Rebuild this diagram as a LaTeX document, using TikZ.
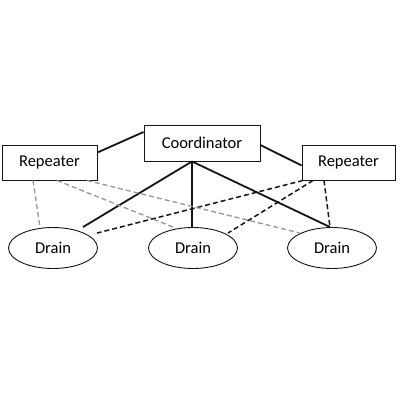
\documentclass[tikz,border=0pt]{standalone}
\usepackage{fontspec}
\setmainfont{Carlito}
\definecolor{traitgris}{RGB}{150,150,150}
\definecolor{traitnoir}{RGB}{20,20,20}
\usepackage{tikz}
\usetikzlibrary{shapes.geometric}

\begin{document}
\begin{tikzpicture}[
    x=1pt, y=-1pt,
    boite/.style={draw=traitnoir, line width=0.9pt, inner sep=0pt,
                  minimum height=35pt, font=\fontsize{16.5}{18}\selectfont},
    puits/.style={ellipse, draw=traitnoir, line width=0.9pt, inner sep=0pt,
                  minimum width=89pt, minimum height=41pt,
                  font=\fontsize{16.5}{18}\selectfont},
    plein/.style={traitnoir, line width=1.8pt},
    tiret/.style={traitnoir, line width=1.5pt, dash pattern=on 5pt off 3pt},
    tiretgris/.style={traitgris, line width=1.3pt, dash pattern=on 5pt off 3pt}
  ]
  \useasboundingbox (0,0) rectangle (400,400);

  % Coordinateur et répéteurs
  \node[boite, minimum width=116pt, minimum height=36pt] (coord) at (202,143) {Coordinator};
  \node[boite, minimum width=95pt] (repG) at (49.5,162.5) {Repeater};
  \node[boite, minimum width=93pt] (repD) at (348.5,162.5) {Repeater};

  % Les trois drains
  \node[puits] (drainG) at (53,248) {Drain};
  \node[puits] (drainM) at (193,248) {Drain};
  \node[puits] (drainD) at (332,248) {Drain};

  % Point de départ commun sous le coordinateur
  \coordinate (pivot) at ([xshift=-10pt]coord.south);

  % Liaisons pleines
  \draw[plein] ([yshift=11pt]coord.west) -- ([yshift=10pt]repG.east);
  \draw[plein] ([yshift=-2pt]coord.east) -- ([yshift=-3pt]repD.west);
  \draw[plein] (pivot) -- ([xshift=30pt]drainG.north);
  \draw[plein] (pivot) -- ([xshift=-1pt]drainM.north);
  \draw[plein] (pivot) -- ([xshift=-2pt]drainD.north);

  % Liaisons en tirets depuis le répéteur droit
  \draw[tiret] ([xshift=-45.5pt]repD.south) -- ([xshift=44pt,yshift=-6pt]drainG.north);
  \draw[tiret] ([xshift=-35.5pt]repD.south) -- ([xshift=35pt,yshift=-6pt]drainM.north);
  \draw[tiret] ([xshift=-24.5pt]repD.south) -- ([xshift=-2pt]drainD.north);

  % Liaisons grises depuis le répéteur gauche
  \draw[tiretgris] ([xshift=-16.5pt]repG.south) -- ([xshift=-13pt]drainG.north);
  \draw[tiretgris] ([xshift=7.5pt]repG.south) -- ([xshift=-20pt]drainM.north);
  \draw[tiretgris] ([xshift=37.5pt]repG.south) -- ([xshift=-32pt,yshift=-6pt]drainD.north);
\end{tikzpicture}
\end{document}
